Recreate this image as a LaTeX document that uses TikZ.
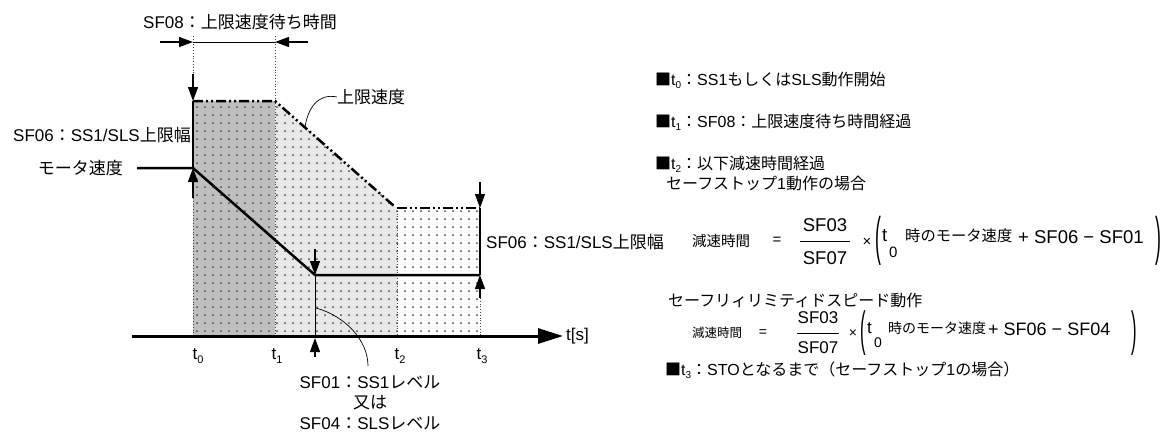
\documentclass[tikz,border=0pt]{standalone}
\usepackage{fontspec}
\setmainfont{Liberation Sans}
\newfontfamily\jp{Noto Sans CJK JP}
\usetikzlibrary{arrows.meta}
\newcommand\J[1]{{\jp #1}}
\newcommand\fs[1]{\fontsize{#1}{#1}\selectfont}
\newcommand\tsubL[1]{t\raisebox{-0.2em}{\fs{11}#1}}
\newcommand\tsubR[1]{t\raisebox{-0.2em}{\fs{10}#1}}
\begin{document}
\begin{tikzpicture}[x=1pt,y=-1pt,
  lab/.style={font=\fs{17}, inner sep=0pt},
  rtxt/.style={font=\fs{16}, inner sep=0pt, anchor=west},
  ftxt/.style={font=\fs{18.5}, inner sep=0pt},
  gtxt/.style={font=\fs{17}, inner sep=0pt},
  thickline/.style={line width=2.5pt},
  thinline/.style={line width=0.7pt},
  dotline/.style={line width=0.8pt, dotted, black!75},
  arr/.style={-{Triangle[length=14pt,width=10pt]}, line width=1.2pt},
  limit/.style={line width=2.5pt, dash pattern=on 10pt off 3pt on 2pt off 3pt on 2pt off 3pt},
]
\useasboundingbox (0,0) rectangle (1167,432);
% key coordinates
\coordinate (T0top) at (193,101);
\coordinate (T1top) at (275,101);
\coordinate (T2top) at (397,208);
\coordinate (T3top) at (480,208);
\coordinate (Sl) at (394,206);
\coordinate (M0) at (193,168);
\coordinate (Mstart) at (137,168);
\coordinate (K) at (315,275);
\coordinate (M3) at (480,275);
\coordinate (Ax0) at (132,336);
\coordinate (Ax1) at (563,336);
\coordinate (T0ax) at (193,336);
\coordinate (T1ax) at (275,336);
\coordinate (T2ax) at (397,336);
\coordinate (T3ax) at (480,336);
\coordinate (Kax) at (315,336);
\coordinate (D0) at (193,42);
\coordinate (D1) at (275,42);
\coordinate (DL) at (160,42);
\coordinate (DR) at (308,42);
\coordinate (T0up) at (193,36);
\coordinate (T1up) at (275,36);
\coordinate (T0arr) at (193,74);
\coordinate (M0arr) at (193,198);
\coordinate (Karr) at (315,249);
\coordinate (Kb0) at (315,357);
\coordinate (Kb1) at (315,338);
\coordinate (T3arr) at (480,182);
\coordinate (T3arr2) at (480,298);
\coordinate (Uend) at (305,127);
\coordinate (Ls) at (316,308);
\coordinate (Le) at (368,366);
% fills
\fill[black!25] (T0top) -- (T1top) -- (T1ax) -- (T0ax) -- cycle;
\fill[black!9] (T1top) -- (T2top) -- (T2ax) -- (T1ax) -- cycle;
\begin{scope}
\clip (T0top) -- (T1top) -- (T2top) -- (T3top) -- (T3ax) -- (T0ax) -- cycle;
\foreach \i in {0,...,36} \foreach \j in {0,...,29} \fill[black!72] (197+8*\i,107+8*\j) circle (1pt);
\end{scope}
% dotted verticals
\draw[dotline] (T0up) -- (T0arr);
\draw[dotline] (T1up) -- (T1ax);
\draw[dotline] (M0arr) -- (T0ax);
\draw[dotline] (T2top) -- (T2ax);
\draw[dotline] (T3arr2) -- (T3ax);
% dimension SF08
\draw[thinline] (D0) -- (D1);
\draw[arr] (DL) -- (D0);
\draw[arr] (DR) -- (D1);
% t0 bracket
\draw[arr] (T0arr) -- (T0top);
\draw[thickline] (T0top) -- (M0);
\draw[arr] (M0arr) -- (M0);
% upper limit
\draw[limit] (T0top) -- (T1top) -- (Sl);
\draw[limit] (T2top) -- (T3top);
% motor speed
\draw[thickline, line join=round] (Mstart) -- (M0) -- (K) -- (M3);
\draw[arr] (Karr) -- (K);
\draw[thinline] (K) -- (Kax);
\draw[arr] (Kb0) -- (Kb1);
% t3 bracket
\draw[arr] (T3arr) -- (T3top);
\draw[thickline] (T3top) -- (M3);
\draw[arr] (T3arr2) -- (M3);
% axis
\draw[line width=3pt, -{Triangle[length=25pt,width=15pt]}] (Ax0) -- (Ax1);
% labels left
\node[lab, anchor=west] (lSF08) at (143,22) {SF08\J{：上限速度待ち時間}};
\node[lab, anchor=east] (lSF06a) at (191,135) {SF06\J{：}SS1/SLS\J{上限幅}};
\node[lab, anchor=east] (lmotor) at (123,168) {\J{モータ速度}};
\node[lab, anchor=west] (lupper) at (337,97) {\J{上限速度}};
\draw[thinline] (lupper.west) .. controls (318,93) and (308,108) .. (Uend);
\node[lab, anchor=west] (lSF06b) at (486,242) {SF06\J{：}SS1/SLS\J{上限幅}};
\node[lab] (lt0) at (198,356) {\tsubL{0}};
\node[lab] (lt1) at (277,356) {\tsubL{1}};
\node[lab] (lt2) at (400,356) {\tsubL{2}};
\node[lab] (lt3) at (482,356) {\tsubL{3}};
\node[lab, anchor=west] (lts) at (566,336) {t[s]};
\node[lab] (lSF01) at (370,382) {SF01\J{：}SS1\J{レベル}};
\node[lab] (lor) at (370,403) {\J{又は}};
\node[lab] (lSF04) at (370,423) {SF04\J{：}SLS\J{レベル}};
\draw[thinline] (Ls) .. controls (345,316) and (368,340) .. (Le);
% right texts
\node[rtxt] (r0) at (655,80) {\J{■}\tsubR{0}\J{：}SS1\J{もしくは}SLS\J{動作開始}};
\node[rtxt] (r1) at (655,122) {\J{■}\tsubR{1}\J{：}SF08\J{：上限速度待ち時間経過}};
\node[rtxt] (r2) at (655,164) {\J{■}\tsubR{2}\J{：以下減速時間経過}};
\node[rtxt] (r2a) at (666,183) {\J{セーフストップ}1\J{動作の場合}};
% formula 1
\coordinate (f1l0) at (800,241);
\coordinate (f1l1) at (850,241);
\node[ftxt, anchor=west, font=\jp\fs{14.5}] (f1a) at (692,241) {減速時間};
\node[ftxt, font=\fs{15}] (f1eq) at (777,241) {=};
\node[ftxt] (f1n) at (825,225) {SF03};
\node[ftxt] (f1d) at (825,258) {SF07};
\draw[thinline] (f1l0) -- (f1l1);
\node[ftxt, font=\fs{15}] (f1x) at (867,242) {×};
\node[ftxt, font=\fs{16}] (f1p) at (878,241) {\scalebox{1.1}[3.3]{(}};
\node[ftxt, anchor=west] (f1t) at (882,236) {t};
\node[ftxt, anchor=west, font=\fs{15}] (f1o) at (889,252) {0};
\node[ftxt, anchor=west, font=\jp\fs{15.3}] (f1b) at (905,236) {時のモータ速度};
\node[ftxt, anchor=west] (f1c) at (1018,237) {+ SF06 − SF01};
\node[ftxt, font=\fs{16}] (f1q) at (1158,241) {\scalebox{1.1}[3.3]{)}};
% second case
\node[rtxt] (r2b) at (668,300) {\J{セーフリィリミティドスピード動作}};
\coordinate (f2l0) at (797,333);
\coordinate (f2l1) at (839,333);
\node[gtxt, anchor=west, font=\jp\fs{12.5}] (f2a) at (692,333) {減速時間};
\node[gtxt, font=\fs{14}] (f2eq) at (763,333) {=};
\node[gtxt] (f2n) at (818,318) {SF03};
\node[gtxt] (f2d) at (818,348) {SF07};
\draw[thinline] (f2l0) -- (f2l1);
\node[gtxt, font=\fs{14}] (f2x) at (853,334) {×};
\node[gtxt, font=\fs{15}] (f2p) at (863,333) {\scalebox{1.1}[3.2]{(}};
\node[gtxt, anchor=west] (f2t) at (867,328) {t};
\node[gtxt, anchor=west, font=\fs{14}] (f2o) at (874,343) {0};
\node[gtxt, anchor=west, font=\jp\fs{14}] (f2b) at (888,328) {時のモータ速度};
\node[gtxt, anchor=west, font=\fs{18}] (f2c) at (988,329) {+ SF06 − SF04};
\node[gtxt, font=\fs{15}] (f2q) at (1134,333) {\scalebox{1.1}[3.2]{)}};
\node[rtxt] (r3) at (665,370) {\J{■}\tsubR{3}\J{：}STO\J{となるまで（セーフストップ}1\J{の場合）}};
\end{tikzpicture}
\end{document}
